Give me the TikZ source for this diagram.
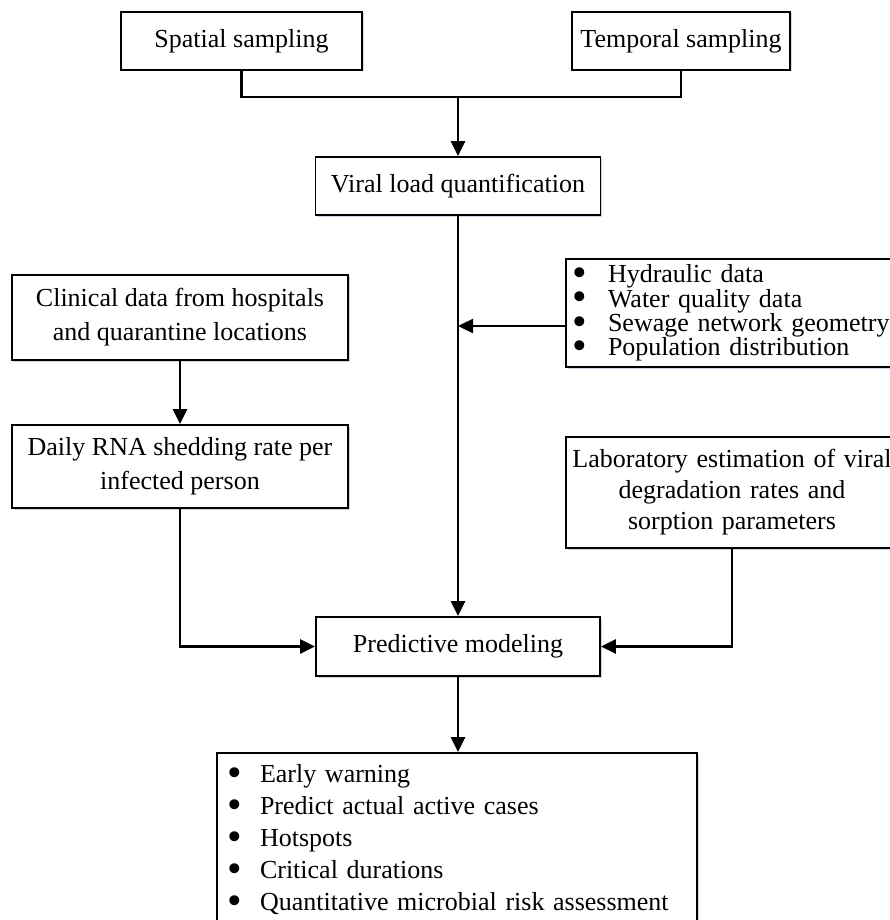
\documentclass[tikz,border=0pt]{standalone}
\usepackage{fontspec}
\setmainfont{Liberation Serif}
\usetikzlibrary{arrows.meta,shadows}
\definecolor{shadowc}{RGB}{170,185,210}
\newcommand{\bul}{\smash{\raisebox{-0.32ex}{\scalebox{1.6}{\textbullet}}}}
\begin{document}
\begin{tikzpicture}[x=1pt,y=-1pt,
  box/.style={draw,line width=1.8pt,rectangle,inner sep=0pt,fill=white,
    drop shadow={shadow xshift=1.5pt,shadow yshift=-1.5pt,fill=shadowc,opacity=0.6},
    font=\fontsize{26}{34}\selectfont,align=center},
  conn/.style={line width=2.4pt},
  arr/.style={conn,-{Triangle[length=15pt,width=14pt]}}]
\useasboundingbox (0,0) rectangle (890,920);
\clip (0,0) rectangle (890,920);
\fill[white] (0,0) rectangle (890,920);

\node[box,minimum width=241pt,minimum height=58pt] (sp) at (241.5,41) {Spatial sampling};
\node[box,minimum width=218pt,minimum height=58pt] (tp) at (681,41) {Temporal sampling};
\node[box,minimum width=285pt,minimum height=58pt] (vl) at (458,186) {Viral load quantification};
\node[box,minimum width=336pt,minimum height=85pt] (cl) at (180,317.5) {Clinical data from hospitals\\and quarantine locations};
\node[box,minimum width=336pt,minimum height=83pt] (dr) at (180,466.5) {Daily RNA shedding rate per\\infected person};
\node[box,minimum width=332pt,minimum height=108pt,text width=320pt,inner xsep=6pt,align=left,
      font=\fontsize{26}{24.3}\selectfont] (hy) at (732,313)
  {\makebox[36pt][l]{\bul}Hydraulic data\\
   \makebox[36pt][l]{\bul}Water quality data\\
   \makebox[36pt][l]{\bul}Sewage network geometry\\
   \makebox[36pt][l]{\bul}Population distribution};
\node[box,minimum width=332pt,minimum height=111pt,text width=332pt,
      font=\fontsize{26}{31}\selectfont] (lab) at (732,492.5)
  {Laboratory estimation of viral\\degradation rates and\\sorption parameters};
\node[box,minimum width=284pt,minimum height=59pt] (pm) at (458,646.5) {Predictive modeling};
\node[box,minimum width=480pt,minimum height=173pt,text width=460pt,inner xsep=10pt,align=left,
      font=\fontsize{26}{32}\selectfont] (out) at (457,839.5)
  {\makebox[33pt][l]{\bul}Early warning\\
   \makebox[33pt][l]{\bul}Predict actual active cases\\
   \makebox[33pt][l]{\bul}Hotspots\\
   \makebox[33pt][l]{\bul}Critical durations\\
   \makebox[33pt][l]{\bul}Quantitative microbial risk assessment};

\coordinate (j) at (458,97);
\coordinate (hin) at (566,326);
\draw[conn] (sp.south) |- (j) -| (tp.south);
\draw[arr] (j) -- (vl.north);
\draw[arr] (vl.south) -- (pm.north);
\draw[arr] (hin) -- (hin -| vl.south);
\draw[arr] (cl.south) -- (dr.north);
\draw[arr] (dr.south) |- (pm.west);
\draw[arr] (lab.south) |- (pm.east);
\draw[arr] (pm.south) -- (pm.south |- out.north);
\end{tikzpicture}
\end{document}
